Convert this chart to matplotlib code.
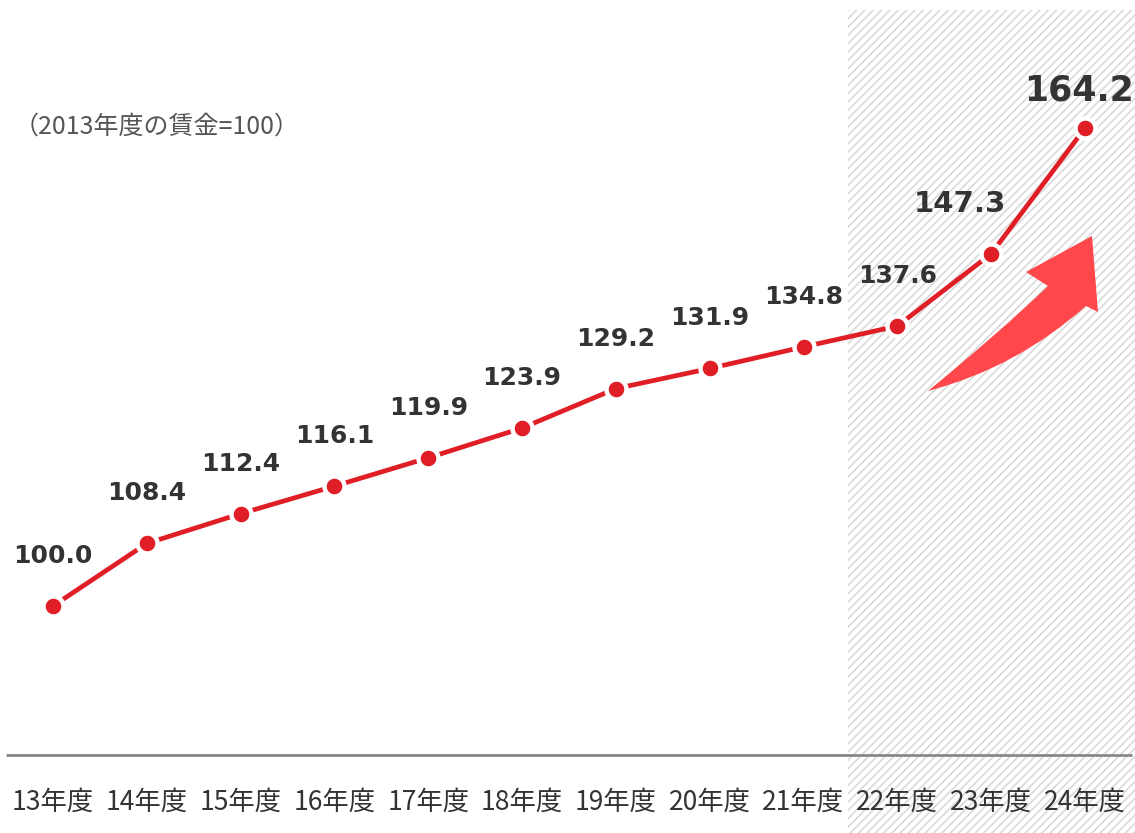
import numpy as np
import matplotlib
matplotlib.use("Agg")
import matplotlib.pyplot as plt
from matplotlib.patches import Rectangle, PathPatch
from matplotlib.path import Path

plt.rcParams['font.family'] = ['Noto Sans CJK JP', 'DejaVu Sans']
plt.rcParams['hatch.color'] = '#d9d9d9'
plt.rcParams['hatch.linewidth'] = 1.2

# wage index, FY2013 = 100
years = ['13年度', '14年度', '15年度', '16年度', '17年度', '18年度',
         '19年度', '20年度', '21年度', '22年度', '23年度', '24年度']
wage_index = [100.0, 108.4, 112.4, 116.1, 119.9, 123.9,
              129.2, 131.9, 134.8, 137.6, 147.3, 164.2]
highlight_from = 9  # 22年度 onwards

W, H = 1135, 833
fig = plt.figure(figsize=(W / 100, H / 100), dpi=100)
ax = fig.add_axes([0, 0, 1, 1])
ax.set_xlim(-0.565, 11.533)
ax.set_ylim(69.51, 181.39)
ax.axis('off')

x = np.arange(len(years))

# shaded recent years
ax.add_patch(Rectangle((highlight_from - 0.527, 60), 12, 180.05 - 60,
                       facecolor='white', edgecolor='#d9d9d9', hatch='////',
                       linewidth=0, zorder=0))

# baseline
ax.plot([-0.5, 11.5], [80, 80], color='#888888', lw=2, zorder=1,
        solid_capstyle='butt')

for i, lab in enumerate(years):
    ax.text(x[i], 73.6, lab, ha='center', va='center', fontsize=19,
            color='#333333')

ax.text(0.012, 0.848, '（2013年度の賃金=100）', transform=ax.transAxes,
        ha='left', va='center', fontsize=18, color='#555555')

ax.plot(x, wage_index, color='#e01e26', lw=3.4, zorder=3,
        marker='o', ms=14.4, mfc='#e01e26', mec='white', mew=3.2)

for i, v in enumerate(wage_index):
    size, dx, dy = 18, 0, 38
    if i == 10:
        size, dx, dy = 21, -31, 36
    if i == 11:
        size, dx, dy = 25, -6, 20
    ax.annotate(f'{v:.1f}', (x[i], v), xytext=(dx, dy),
                textcoords='offset pixels', ha='center', va='bottom',
                fontsize=size, fontweight='bold', color='#333333',
                family='DejaVu Sans', zorder=4)


# upward arrow, drawn in pixel space
def px(p):
    return (p[0] / W, 1 - p[1] / H)


verts = [(928, 391), (1016, 368), (1086, 306),
         (1098, 312), (1092, 236), (1026, 272), (1048, 286),
         (1000, 332), (928, 391), (928, 391)]
codes = [Path.MOVETO, Path.CURVE3, Path.CURVE3,
         Path.LINETO, Path.LINETO, Path.LINETO, Path.LINETO,
         Path.CURVE3, Path.CURVE3, Path.CLOSEPOLY]
arrow = PathPatch(Path([px(v) for v in verts], codes),
                  facecolor='#ff474c', edgecolor='none',
                  transform=fig.transFigure, zorder=2)
fig.patches.append(arrow)

fig.savefig('out.png', dpi=100)
